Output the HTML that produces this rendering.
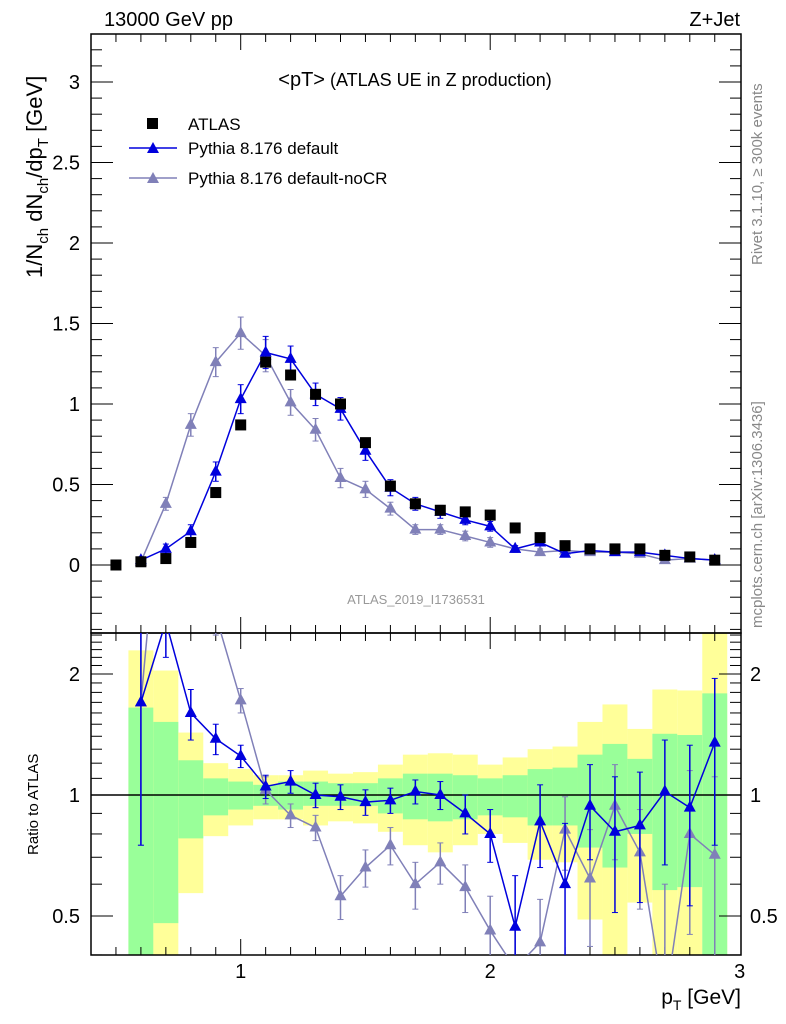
<!DOCTYPE html>
<html><head><meta charset="utf-8"><style>
html,body{margin:0;padding:0;background:#fff;width:786px;height:1024px;overflow:hidden;}
svg{display:block;font-family:"Liberation Sans",sans-serif;}
</style></head><body>
<svg id="chart" width="786" height="1024" xmlns="http://www.w3.org/2000/svg">
<defs>
<clipPath id="clipMain"><rect x="91" y="34" width="650" height="599"/></clipPath>
<clipPath id="clipRatio"><rect x="91" y="633" width="650" height="322"/></clipPath>
</defs>
<g id="bands" clip-path="url(#clipRatio)"></g>
<g id="axes"></g>
<g id="series"></g>
<text x="104" y="26" font-size="20">13000 GeV pp</text>
<text x="740" y="26" font-size="20" text-anchor="end">Z+Jet</text>
<text x="415" y="86" font-size="18" text-anchor="middle"><tspan font-size="20">&lt;pT&gt;</tspan> (ATLAS UE in Z production)</text>
<text x="416" y="604" font-size="13" fill="#999" text-anchor="middle">ATLAS_2019_I1736531</text>
<text transform="translate(762,265) rotate(-90)" font-size="15" fill="#888">Rivet 3.1.10, ≥ 300k events</text>
<text transform="translate(762,628) rotate(-90)" font-size="15" fill="#888">mcplots.cern.ch [arXiv:1306.3436]</text>
<text transform="translate(42,278) rotate(-90)" font-size="22">1/N<tspan font-size="15" dy="6">ch</tspan><tspan dy="-6"> dN</tspan><tspan font-size="15" dy="6">ch</tspan><tspan dy="-6">/dp</tspan><tspan font-size="15" dy="6">T</tspan><tspan dy="-6"> [GeV]</tspan></text>
<text transform="translate(38,855) rotate(-90)" font-size="15">Ratio to ATLAS</text>
<text x="741" y="1004" font-size="21" text-anchor="end">p<tspan font-size="14" dy="6">T</tspan><tspan dy="-6"> [GeV]</tspan></text>
<g>
<rect x="147" y="118" width="11" height="11" fill="#000"/>
<text x="188" y="130" font-size="17">ATLAS</text>
<line x1="129" y1="148" x2="177" y2="148" stroke="#0000dd" stroke-width="1.5"/>
<polygon points="153,142 147,153 159,153" fill="#0000dd"/>
<text x="188" y="154" font-size="17">Pythia 8.176 default</text>
<line x1="129" y1="178" x2="177" y2="178" stroke="#8080b8" stroke-width="1.5"/>
<polygon points="153,172 147,183 159,183" fill="#8080b8"/>
<text x="188" y="184" font-size="17">Pythia 8.176 default-noCR</text>
</g>
</svg>
<script>
const xVals=[0.6,0.7,0.8,0.9,1.0,1.1,1.2,1.3,1.4,1.5,1.6,1.7,1.8,1.9,2.0,2.1,2.2,2.3,2.4,2.5,2.6,2.7,2.8,2.9];
const atlasX=[0.5,0.6,0.7,0.8,0.9,1.0,1.1,1.2,1.3,1.4,1.5,1.6,1.7,1.8,1.9,2.0,2.1,2.2,2.3,2.4,2.5,2.6,2.7,2.8,2.9];
const atlasY=[0.0,0.02,0.04,0.14,0.45,0.87,1.26,1.18,1.06,1.0,0.76,0.49,0.38,0.34,0.33,0.31,0.23,0.17,0.12,0.1,0.1,0.1,0.06,0.05,0.03];
const defY=[0.03,0.1,0.21,0.58,1.03,1.32,1.28,1.06,0.97,0.71,0.48,0.38,0.33,0.28,0.24,0.1,0.14,0.07,0.09,0.08,0.08,0.06,0.04,0.03];
const defErr=[0.02,0.03,0.04,0.06,0.09,0.1,0.08,0.07,0.07,0.06,0.05,0.04,0.04,0.03,0.03,0.02,0.02,0.02,0.02,0.02,0.02,0.02,0.02,0.02];
const nocrY=[0.02,0.38,0.87,1.26,1.44,1.3,1.01,0.84,0.54,0.47,0.35,0.22,0.22,0.18,0.14,0.1,0.08,0.09,0.08,0.08,0.07,0.03,0.04,0.03];
const nocrErr=[0.02,0.04,0.07,0.09,0.1,0.1,0.08,0.07,0.06,0.05,0.04,0.03,0.03,0.03,0.03,0.02,0.02,0.02,0.02,0.02,0.02,0.02,0.02,0.02];
const defRatio=[1.7,2.7,1.6,1.38,1.25,1.05,1.08,1.0,0.99,0.96,0.97,1.02,1.0,0.9,0.8,0.47,0.86,0.6,0.94,0.81,0.84,1.02,0.93,1.35];
const defRatioErr=[0.95,0.5,0.23,0.12,0.08,0.07,0.07,0.07,0.07,0.07,0.07,0.07,0.08,0.1,0.12,0.16,0.2,0.25,0.25,0.3,0.3,0.35,0.4,0.6];
const nocrRatio=[1.7,8,6,2.8,1.72,1.03,0.89,0.83,0.56,0.66,0.75,0.6,0.68,0.59,0.46,0.37,0.43,0.82,0.62,0.94,0.72,0.3,0.8,0.71];
const nocrRatioErr=[0.95,1,0.8,0.3,0.12,0.08,0.06,0.06,0.07,0.07,0.08,0.08,0.08,0.08,0.1,0.1,0.12,0.17,0.2,0.25,0.2,0.3,0.35,0.4];
const yellowUp=[2.29,2.04,1.43,1.20,1.16,1.12,1.12,1.15,1.13,1.14,1.19,1.26,1.27,1.26,1.19,1.24,1.30,1.32,1.52,1.68,1.46,1.83,1.82,2.6];
const greenUp=[1.65,1.52,1.22,1.10,1.08,1.06,1.08,1.08,1.07,1.07,1.10,1.13,1.13,1.12,1.10,1.12,1.16,1.17,1.26,1.34,1.23,1.42,1.41,1.79];
const greenDn=[0.3,0.48,0.78,0.89,0.92,0.94,0.92,0.94,0.94,0.94,0.90,0.87,0.86,0.87,0.89,0.88,0.84,0.84,0.74,0.66,0.80,0.58,0.59,0.3];
const yellowDn=[0.3,0.3,0.57,0.79,0.84,0.87,0.87,0.84,0.86,0.85,0.81,0.75,0.72,0.75,0.80,0.76,0.69,0.68,0.49,0.3,0.54,0.3,0.3,0.3];
const mainTicks=[0,0.5,1,1.5,2,2.5,3];
const ratioTicks=[0.5,1,2];
const xTicks=[1,2,3];

const NS="http://www.w3.org/2000/svg";
const X0=91,X1=741;
function sx(v){return X0+(v-0.4)*249.5;}
function sy(v){return 565-v*161;}
function ry(v){return 795-Math.log2(v)*121;}
function mk(tag,attrs,parent){const e=document.createElementNS(NS,tag);for(const k in attrs)e.setAttribute(k,attrs[k]);parent.appendChild(e);return e;}
const axes=document.getElementById('axes'),series=document.getElementById('series'),bands=document.getElementById('bands');

for(let i=0;i<xVals.length;i++){
  const xa=sx(xVals[i]-0.05),xb=sx(xVals[i]+0.05);
  const y1=mk('rect',{x:xa,y:ry(yellowUp[i]),width:xb-xa,height:ry(yellowDn[i])-ry(yellowUp[i]),fill:'#ffff99'},bands);
  
  
  const g1=mk('rect',{x:xa,y:ry(greenUp[i]),width:xb-xa,height:ry(greenDn[i])-ry(greenUp[i]),fill:'#99ff99'},bands);
  
  
}
let f=mk('rect',{x:91,y:34,width:650,height:599,fill:'none',stroke:'#000','stroke-width':1.5},axes);


f=mk('rect',{x:91,y:633,width:650,height:322,fill:'none',stroke:'#000','stroke-width':1.5},axes);


mk('line',{x1:91,x2:741,y1:ry(1),y2:ry(1),stroke:'#000','stroke-width':1.5},axes);
for(let k=5;k<=29;k++){const v=k/10;const x=sx(v);const maj=(k%10===0);const L=maj?16:8;
  for(const [yt,yb] of [[34,633],[633,955]]){
    mk('line',{x1:x,x2:x,y1:yt,y2:yt+L,stroke:'#000'},axes);
    mk('line',{x1:x,x2:x,y1:yb,y2:yb-L,stroke:'#000'},axes);}
}
xTicks.forEach(v=>{const t=mk('text',{x:sx(v),y:978,'font-size':20,'text-anchor':'middle'},axes);t.textContent=v;
  
  });
for(let k=-4;k<=32;k++){const v=k/10;const y=sy(v);const maj=(k%5===0);const L=maj?22:11;
  mk('line',{x1:91,x2:91+L,y1:y,y2:y,stroke:'#000'},axes);
  mk('line',{x1:741,x2:741-L,y1:y,y2:y,stroke:'#000'},axes);}
mainTicks.forEach(v=>{const t=mk('text',{x:80,y:sy(v)+7,'font-size':20,'text-anchor':'end'},axes);t.textContent=v;
  
  });
[0.4,0.5,0.6,0.7,0.8,0.9,1,1.1,1.2,1.3,1.4,1.5,1.6,1.7,1.8,1.9,2,2.1,2.2,2.3,2.4,2.5].forEach(v=>{
  const maj=ratioTicks.includes(v);const L=maj?22:11;const y=ry(v);
  mk('line',{x1:91,x2:91+L,y1:y,y2:y,stroke:'#000'},axes);
  mk('line',{x1:741,x2:741-L,y1:y,y2:y,stroke:'#000'},axes);});
ratioTicks.forEach(v=>{
  let t=mk('text',{x:80,y:ry(v)+7,'font-size':20,'text-anchor':'end'},axes);t.textContent=v;
  
  
  t=mk('text',{x:750,y:ry(v)+7,'font-size':20},axes);t.textContent=v;
  
  });

function tri(g,x,y,c){mk('polygon',{points:`${x},${y-7} ${x-6},${y+4} ${x+6},${y+4}`,fill:c},g);}
function drawSeries(name,xs,ys,errs,fy,c,clip){
  const g=mk('g',{'clip-path':clip},series);
  
  
  mk('polyline',{points:xs.map((x,i)=>sx(x)+','+fy(ys[i])).join(' '),fill:'none',stroke:c,'stroke-width':1.5},g);
  xs.forEach((x,i)=>{const px=sx(x);const lo=Math.max(ys[i]-errs[i],0.05);
    mk('line',{x1:px,x2:px,y1:fy(ys[i]+errs[i]),y2:fy(lo),stroke:c,'stroke-width':1.5},g);
    mk('line',{x1:px-3,x2:px+3,y1:fy(ys[i]+errs[i]),y2:fy(ys[i]+errs[i]),stroke:c},g);
    mk('line',{x1:px-3,x2:px+3,y1:fy(lo),y2:fy(lo),stroke:c},g);
    tri(g,px,fy(ys[i]),c);});
}
drawSeries('series-nocr',xVals,nocrY,nocrErr,sy,'#8080b8','url(#clipMain)');
drawSeries('series-default',xVals,defY,defErr,sy,'#0000dd','url(#clipMain)');
drawSeries('ratio-nocr',xVals,nocrRatio,nocrRatioErr,ry,'#8080b8','url(#clipRatio)');
drawSeries('ratio-default',xVals,defRatio,defRatioErr,ry,'#0000dd','url(#clipRatio)');
const ga=mk('g',{'clip-path':'url(#clipMain)'},series);


atlasX.forEach((x,i)=>{const r=mk('rect',{x:sx(x)-5.5,y:sy(atlasY[i])-5.5,width:11,height:11,fill:'#000'},ga);
  
  });
</script>
</body></html>
